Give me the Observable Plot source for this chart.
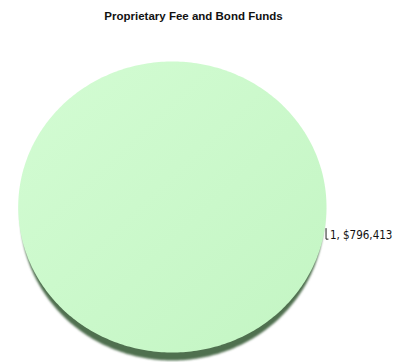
<!DOCTYPE html>
<html><head><meta charset="utf-8">
<script src="https://cdn.jsdelivr.net/npm/d3@7"></script>
<script src="https://cdn.jsdelivr.net/npm/@observablehq/plot@0.6"></script>
<style>body{margin:0;background:#fff} svg{display:block}</style>
</head><body><div id="chart"></div>
<script>
const title = "Proprietary Fee and Bond Funds";
const categories = ["1"];
const values = [796413];

const slices = d3.pie().sort(null)(values).map((a, i) => ({...a, category: categories[i], value: values[i]}));
const steps = 360;
const outline = slices.flatMap(s => d3.range(steps + 1).map(k => {
  const a = s.startAngle + (s.endAngle - s.startAngle) * k / steps;
  return {category: s.category, x: Math.sin(a), y: Math.cos(a)};
}));
const shadow = outline.map(d => ({...d, x: d.x * 0.985}));
const fmt = d3.format("$,");
const labels = slices.map(s => ({category: s.category, text: `${s.category}, ${fmt(s.value)}`}));
const leader = [{x: 0.997, y: -0.148}, {x: 0.997, y: -0.221}, {x: 1.010, y: -0.221}];

const chart = Plot.plot({
  width: 396, height: 362, margin: 0,
  x: {domain: [-1, 1], range: [17.7, 326], axis: null},
  y: {domain: [-1, 1], range: [352, 61], axis: null},
  marks: [
    Plot.line(shadow, {x: "x", y: "y", z: "category", fill: "#50704f", stroke: "none", dy: 8, curve: "linear"}),
    Plot.line(outline, {x: "x", y: "y", z: "category", fill: "url(#pieGrad)", stroke: "none", curve: "linear"}),
    Plot.line(leader, {x: "x", y: "y", stroke: "#222", strokeWidth: 1}),
    Plot.text(labels, {x: () => 1.022, y: () => -0.196, text: "text", textAnchor: "start", fontSize: 11.5, fill: "#111",
      fontFamily: "'Liberation Sans Narrow','DejaVu Sans Condensed',sans-serif"}),
    Plot.text([title], {frameAnchor: "top", dy: 11, dx: -5, text: d => d, fontWeight: "bold", fontSize: 11.5, fill: "#111",
      fontFamily: "'Liberation Sans',Arial,sans-serif"})
  ]
});
const svg = d3.select(chart);
const defs = svg.insert("defs", ":first-child");
const g = defs.append("linearGradient").attr("id", "pieGrad").attr("x1", "0").attr("y1", "0").attr("x2", "1").attr("y2", "1");
g.append("stop").attr("offset", "0").attr("stop-color", "#d3fcd3");
g.append("stop").attr("offset", "1").attr("stop-color", "#c3f5c3");
defs.append("filter").attr("id", "blurS").append("feGaussianBlur").attr("stdDeviation", 0.8);
svg.select("g[aria-label=line]").attr("filter", "url(#blurS)");
document.getElementById("chart").append(chart);
</script>
</body></html>
